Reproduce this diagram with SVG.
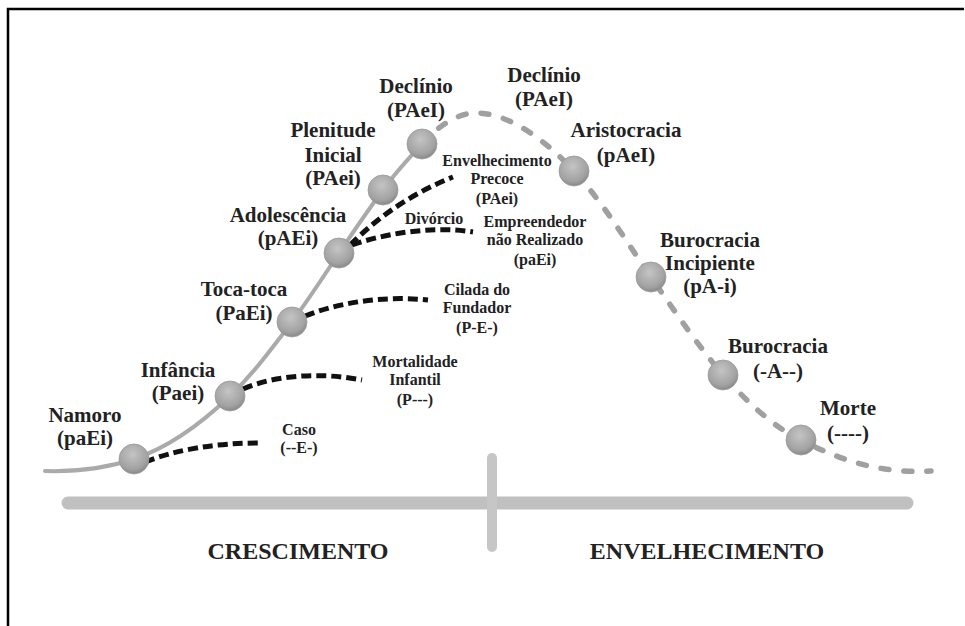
<svg xmlns="http://www.w3.org/2000/svg" width="965" height="626" viewBox="0 0 965 626">
<defs>
<radialGradient id="ball" cx="0.45" cy="0.35" r="0.7">
<stop offset="0" stop-color="#c4c4c4"/>
<stop offset="0.7" stop-color="#a2a2a2"/>
<stop offset="1" stop-color="#808080"/>
</radialGradient>
<style>
.t{font-family:"Liberation Serif","Times New Roman",serif;font-weight:bold;fill:#222;text-anchor:middle}
.big{font-size:21px}
.sm{font-size:16px}
.hd{font-size:24px}
.node{fill:url(#ball);stroke:#9a9a9a;stroke-width:0.8}
.solid{fill:none;stroke:#aaaaaa;stroke-width:4;stroke-linecap:round}
.gdash{fill:none;stroke:#a0a0a0;stroke-width:5.5;stroke-linecap:round;stroke-dasharray:8 15}
.bdash{fill:none;stroke:#111;stroke-width:5;stroke-dasharray:10 5}
</style>
</defs>
<rect width="965" height="626" fill="#fff"/>
<path d="M8,626 L8,9 L964,9" fill="none" stroke="#000" stroke-width="2.5"/>

<g id="axis">
<line x1="68" y1="503" x2="907" y2="503" stroke="#c0c0c0" stroke-width="13" stroke-linecap="round"/>
<line x1="492" y1="458" x2="492" y2="547" stroke="#c6c6c6" stroke-width="10" stroke-linecap="round"/>
<text class="t hd" x="298" y="559">CRESCIMENTO</text>
<text class="t hd" x="707" y="559">ENVELHECIMENTO</text>
</g>

<g id="connectors">
<path class="solid" d="M45,471 C80,472 110,467 134,459 C170,447 205,420 230,396 C255,372 272,348 292,322 C308,300 324,276 339,253 C354,231 368,210 383,190 C395,173 410,157 422,144"/>
<path class="gdash" d="M422,144 C440,124 460,112 478,113 C510,114 545,140 574,171 C605,205 625,240 651,277 C675,312 700,348 723,375 C750,405 775,428 801,440 C840,460 880,474 931,471"/>
<path class="bdash" d="M145,462 C175,450 215,443 258,443"/>
<path class="bdash" d="M243,389 C275,375 320,372 362,380"/>
<path class="bdash" d="M305,316 C335,304 380,295 428,300"/>
<path class="bdash" d="M352,245 C380,235 430,225 473,232"/>
<path class="bdash" d="M350,245 Q395,200 453,177"/>
</g>

<g id="namoro"><circle class="node" cx="134" cy="459" r="15"/>
<text class="t big" x="85" y="422">Namoro</text><text class="t big" x="85" y="445">(paEi)</text></g>
<g id="infancia"><circle class="node" cx="230" cy="396" r="15"/>
<text class="t big" x="178" y="377">Infância</text><text class="t big" x="178" y="400">(Paei)</text></g>
<g id="tocatoca"><circle class="node" cx="292" cy="322" r="15"/>
<text class="t big" x="244" y="296">Toca-toca</text><text class="t big" x="244" y="320">(PaEi)</text></g>
<g id="adolescencia"><circle class="node" cx="339" cy="253" r="15"/>
<text class="t big" x="288" y="222">Adolescência</text><text class="t big" x="288" y="245">(pAEi)</text></g>
<g id="plenitude"><circle class="node" cx="383" cy="190" r="15"/>
<text class="t big" x="333" y="137">Plenitude</text><text class="t big" x="333" y="162">Inicial</text><text class="t big" x="333" y="185">(PAei)</text></g>
<g id="declinio1"><circle class="node" cx="422" cy="144" r="15"/>
<text class="t big" x="416" y="93">Declínio</text><text class="t big" x="416" y="117">(PAeI)</text></g>
<g id="declinio2">
<text class="t big" x="544" y="82">Declínio</text><text class="t big" x="544" y="106">(PAeI)</text></g>
<g id="aristocracia"><circle class="node" cx="574" cy="171" r="15"/>
<text class="t big" x="626" y="137">Aristocracia</text><text class="t big" x="626" y="162">(pAeI)</text></g>
<g id="burocracia-incipiente"><circle class="node" cx="651" cy="277" r="15"/>
<text class="t big" x="710" y="247">Burocracia</text><text class="t big" x="710" y="270">Incipiente</text><text class="t big" x="710" y="293">(pA-i)</text></g>
<g id="burocracia"><circle class="node" cx="723" cy="375" r="15"/>
<text class="t big" x="778" y="353">Burocracia</text><text class="t big" x="778" y="378">(-A--)</text></g>
<g id="morte"><circle class="node" cx="801" cy="440" r="15"/>
<text class="t big" x="848" y="415">Morte</text><text class="t big" x="848" y="440">(----)</text></g>

<g id="caso"><text class="t sm" x="299" y="435">Caso</text><text class="t sm" x="299" y="453">(--E-)</text></g>
<g id="mortalidade"><text class="t sm" x="415" y="367">Mortalidade</text><text class="t sm" x="415" y="385">Infantil</text><text class="t sm" x="415" y="405">(P---)</text></g>
<g id="cilada"><text class="t sm" x="477" y="295">Cilada do</text><text class="t sm" x="477" y="313">Fundador</text><text class="t sm" x="477" y="333">(P-E-)</text></g>
<g id="divorcio"><text class="t sm" x="434" y="224">Divórcio</text></g>
<g id="empreendedor"><text class="t sm" x="535" y="227">Empreendedor</text><text class="t sm" x="535" y="245">não Realizado</text><text class="t sm" x="535" y="265">(paEi)</text></g>
<g id="envelhecimento-precoce"><text class="t sm" x="497" y="166">Envelhecimento</text><text class="t sm" x="497" y="184">Precoce</text><text class="t sm" x="497" y="204">(PAei)</text></g>
</svg>
